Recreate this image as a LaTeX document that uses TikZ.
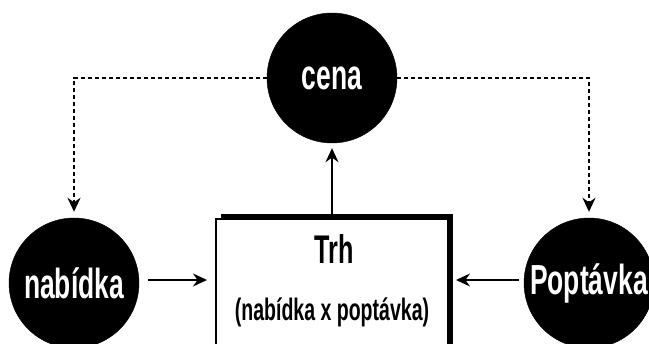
\documentclass[tikz,border=0pt]{standalone}
\usepackage{fontspec}
\newfontfamily\narrowfont{Liberation Sans}[FakeStretch=0.63]
\usepackage{tikz}
\usetikzlibrary{arrows.meta}
\usetikzlibrary{shadows}
\usetikzlibrary{positioning}

\begin{document}
\begin{tikzpicture}
      [x=1pt, y=-1pt,
       every node part/.style={align=center},
       ball/.style={circle, fill=black, draw=black, minimum size=130pt, inner sep=0pt,
                    text=white, font=\narrowfont\bfseries\fontsize{42}{46}\selectfont},
       market/.style={rectangle, fill=white, draw=black, line width=2pt,
                      minimum width=232pt, minimum height=162pt,
                      drop shadow={shadow xshift=5pt, shadow yshift=5pt, opacity=1, fill=black}},
       title/.style={font=\narrowfont\bfseries\fontsize{40}{44}\selectfont},
       subtitle/.style={font=\narrowfont\bfseries\fontsize{31}{35}\selectfont},
       flow/.style={-{Stealth[length=14pt, width=13pt]}, line width=1.3pt},
       link/.style={-{Stealth[length=14pt, width=13pt]}, line width=2pt, dash pattern=on 4pt off 3pt}]
      \useasboundingbox (0, 0) rectangle (649, 344);

      \node (cena) [ball] at (332, 78) {cena};
      \node (nabidka) [ball] at (74, 283) {nabídka};
      \node (poptavka) [ball] at (589, 283) {Poptávka};
      \node (trh) [market] at (332, 300) {};
      \node (trhname) [title] at (334, 249) {Trh};
      \node (trhnote) [subtitle] at (332, 312) {(nabídka x poptávka)};

      \draw [flow, shorten >=5pt] (trh.north) -- (cena.south);
      \draw [flow, shorten <=9pt, shorten >=8pt] (nabidka.east |- 0, 280) -- (trh.west |- 0, 280);
      \draw [flow, shorten <=5pt, shorten >=7pt] (poptavka.west |- 0, 280) -- (trh.east |- 0, 280);
      \draw [link, shorten >=6pt] (cena.west) -| (nabidka.north);
      \draw [link, shorten >=6pt] (cena.east) -| (poptavka.north);

    \end{tikzpicture}
\end{document}
